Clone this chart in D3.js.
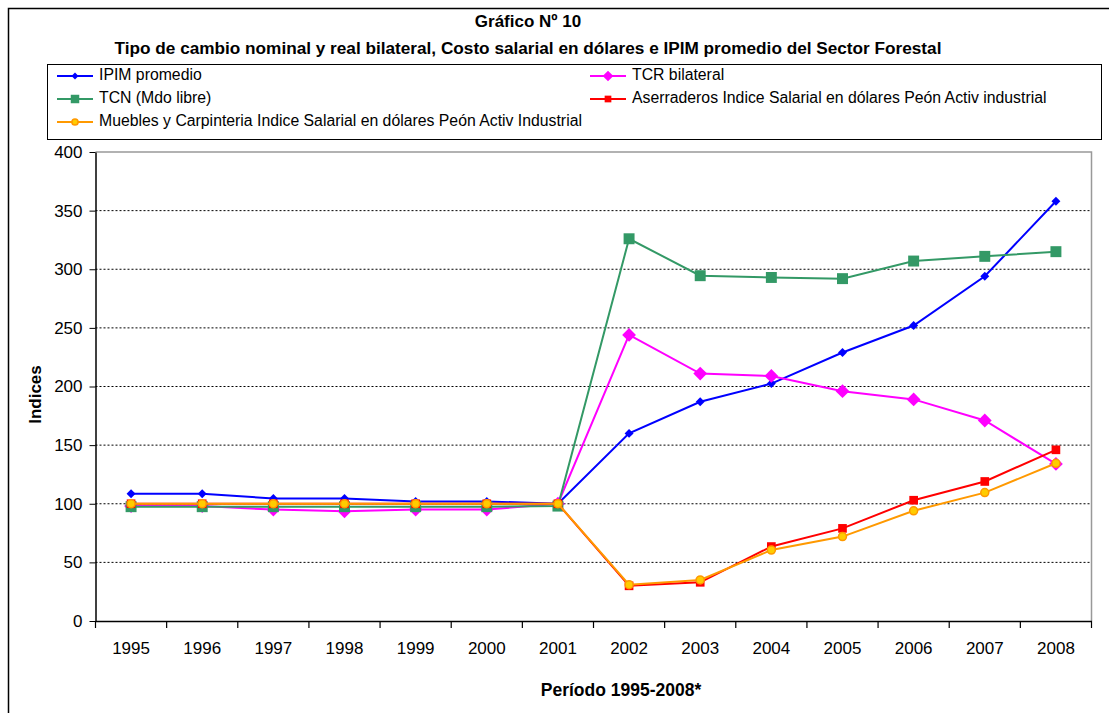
<!DOCTYPE html>
<html>
<head>
<meta charset="utf-8">
<script src="https://cdn.jsdelivr.net/npm/d3@7"></script>
<style>
  body { margin: 0; background: #fff; }
  svg { font-family: "Liberation Sans", Arial, sans-serif; }
</style>
</head>
<body>
<svg id="chart" width="1109" height="713"></svg>
<script>
// datos
const years = ["1995","1996","1997","1998","1999","2000","2001","2002","2003","2004","2005","2006","2007","2008"];
const ipim = [108.5, 108.5, 104.5, 104.5, 102, 102, 100, 160, 187, 202.5, 229, 252, 294, 358];
const tcr = [98, 98, 95, 93.5, 95, 95, 100, 244, 211, 209, 196, 189, 171, 134];
const tcn = [97.5, 97.5, 97.5, 97.5, 97.5, 97.5, 98, 326, 294.5, 293, 292, 307, 311, 315];
const aserraderos = [100, 100, 100, 100, 100, 100, 100, 30, 33, 63.5, 79, 103, 119, 146];
const muebles = [100, 100, 100, 100, 100, 100, 100, 31, 35, 60.5, 72, 94, 109.5, 134.5];
const yTicks = [0, 50, 100, 150, 200, 250, 300, 350, 400];

const series = [
    { name: "IPIM promedio", values: ipim, color: "#0000ff", marker: "diamond", size: 40, fill: "#0000ff", stroke: "#0000ff" },
    { name: "TCR bilateral", values: tcr, color: "#ff00ff", marker: "diamond", size: 95, fill: "#ff00ff", stroke: "#ff00ff" },
    { name: "TCN (Mdo libre)", values: tcn, color: "#339966", marker: "square", size: 120, fill: "#339966", stroke: "#339966" },
    { name: "Aserraderos Indice Salarial en dólares Peón Activ industrial", values: aserraderos, color: "#ff0000", marker: "square", size: 75, fill: "#ff0000", stroke: "#ff0000" },
    { name: "Muebles y Carpinteria Indice Salarial en dólares Peón Activ Industrial", values: muebles, color: "#ff9900", marker: "circle", size: 50, fill: "#ffcc00", stroke: "#ff9900" }
];

const svg = d3.select("#chart");

// marco exterior
svg.append("rect")
    .attr("x", 8.5).attr("y", 8.5)
    .attr("width", 1120).attr("height", 720)
    .attr("fill", "none").attr("stroke", "#000").attr("stroke-width", 1.5);

// titulos
svg.append("text")
    .attr("x", 528).attr("y", 27)
    .attr("text-anchor", "middle")
    .style("font-size", "17px").style("font-weight", "bold")
    .text("Gráfico Nº 10");

svg.append("text")
    .attr("x", 528).attr("y", 54)
    .attr("text-anchor", "middle")
    .style("font-size", "17.2px").style("font-weight", "bold")
    .text("Tipo de cambio nominal y real bilateral, Costo salarial en dólares  e IPIM promedio del Sector Forestal");

const margin = { left: 95.5, right: 1091.5, top: 152, bottom: 621 };

const x = d3.scaleBand().domain(years).range([margin.left, margin.right]);
const y = d3.scaleLinear().domain([0, 400]).range([margin.bottom, margin.top]);

// lineas de grilla
svg.append("g")
    .selectAll("line")
    .data(yTicks.filter(d => d > 0 && d < 400))
    .join("line")
    .attr("x1", margin.left).attr("x2", margin.right)
    .attr("y1", d => y(d)).attr("y2", d => y(d))
    .attr("stroke", "#000").attr("stroke-width", 1)
    .attr("stroke-dasharray", "2,2");

// borde del area de trazado (arriba y derecha en gris)
svg.append("path")
    .attr("d", `M${margin.left},${margin.top}H${margin.right}V${margin.bottom}`)
    .attr("fill", "none").attr("stroke", "#999").attr("stroke-width", 1.5);

// eje y
const yAxis = svg.append("g")
    .attr("transform", `translate(${margin.left},0)`)
    .call(d3.axisLeft(y).tickValues(yTicks).tickSize(6).tickSizeOuter(0));
yAxis.select(".domain").attr("stroke", "#000").attr("stroke-width", 1.5);
yAxis.selectAll("text").style("font-size", "17px").attr("fill", "#000").attr("dx", "-4");

// eje x con marcas entre categorias
const xAxis = svg.append("g")
    .attr("transform", `translate(0,${margin.bottom})`)
    .call(d3.axisBottom(x).tickSize(0).tickSizeOuter(0));
xAxis.select(".domain").attr("stroke", "#000").attr("stroke-width", 1.5);
xAxis.selectAll("text").style("font-size", "17px").attr("fill", "#000").attr("dy", "1.75em");

const bounds = years.map(d => x(d)).concat([margin.right]);
xAxis.selectAll(".sep")
    .data(bounds)
    .join("line")
    .attr("class", "sep")
    .attr("x1", d => d).attr("x2", d => d)
    .attr("y1", 0).attr("y2", 7)
    .attr("stroke", "#000").attr("stroke-width", 1.2);

// titulos de ejes
svg.append("text")
    .attr("transform", `translate(41,${(margin.top + margin.bottom) / 2 + 8}) rotate(-90)`)
    .attr("text-anchor", "middle")
    .style("font-size", "17px").style("font-weight", "bold")
    .text("Indices");

svg.append("text")
    .attr("x", 621).attr("y", 696)
    .attr("text-anchor", "middle")
    .style("font-size", "17.5px").style("font-weight", "bold")
    .text("Período 1995-2008*");

// series
const line = d3.line()
    .x((d, i) => x(years[i]) + x.bandwidth() / 2)
    .y(d => y(d));

// el rombo es un cuadrado girado 45 grados
const symbolType = { diamond: d3.symbolSquare, square: d3.symbolSquare, circle: d3.symbolCircle };
const rot = m => m == "diamond" ? " rotate(45)" : "";

series.forEach(s => {
    const g = svg.append("g");
    g.append("path")
        .datum(s.values)
        .attr("d", line)
        .attr("fill", "none")
        .attr("stroke", s.color)
        .attr("stroke-width", 2);

    g.selectAll("path.pt")
        .data(s.values)
        .join("path")
        .attr("class", "pt")
        .attr("transform", (d, i) => `translate(${x(years[i]) + x.bandwidth() / 2},${y(d)})` + rot(s.marker))
        .attr("d", d3.symbol().type(symbolType[s.marker]).size(s.size))
        .attr("fill", s.fill)
        .attr("stroke", s.stroke)
        .attr("stroke-width", s.marker == "circle" ? 1.5 : 0);
});

// leyenda
const legend = svg.append("g");
legend.append("rect")
    .attr("x", 47.5).attr("y", 64.5)
    .attr("width", 1054).attr("height", 75)
    .attr("fill", "#fff").attr("stroke", "#000").attr("stroke-width", 1);

const legendPos = [
    { x: 57, y: 76 }, { x: 590, y: 76 },
    { x: 57, y: 99 }, { x: 590, y: 99 },
    { x: 57, y: 122 }
];

series.forEach((s, i) => {
    const p = legendPos[i];
    const item = legend.append("g").attr("transform", `translate(${p.x},${p.y})`);
    item.append("line")
        .attr("x1", 0).attr("x2", 36)
        .attr("stroke", s.color).attr("stroke-width", 2);
    item.append("path")
        .attr("transform", "translate(18,0)" + rot(s.marker))
        .attr("d", d3.symbol().type(symbolType[s.marker]).size(s.size * 0.6))
        .attr("fill", s.fill)
        .attr("stroke", s.stroke)
        .attr("stroke-width", s.marker == "circle" ? 1.5 : 0);
    item.append("text")
        .attr("x", 42).attr("y", 0)
        .attr("dominant-baseline", "middle")
        .style("font-size", "15.8px")
        .text(s.name);
});
</script>
</body>
</html>
